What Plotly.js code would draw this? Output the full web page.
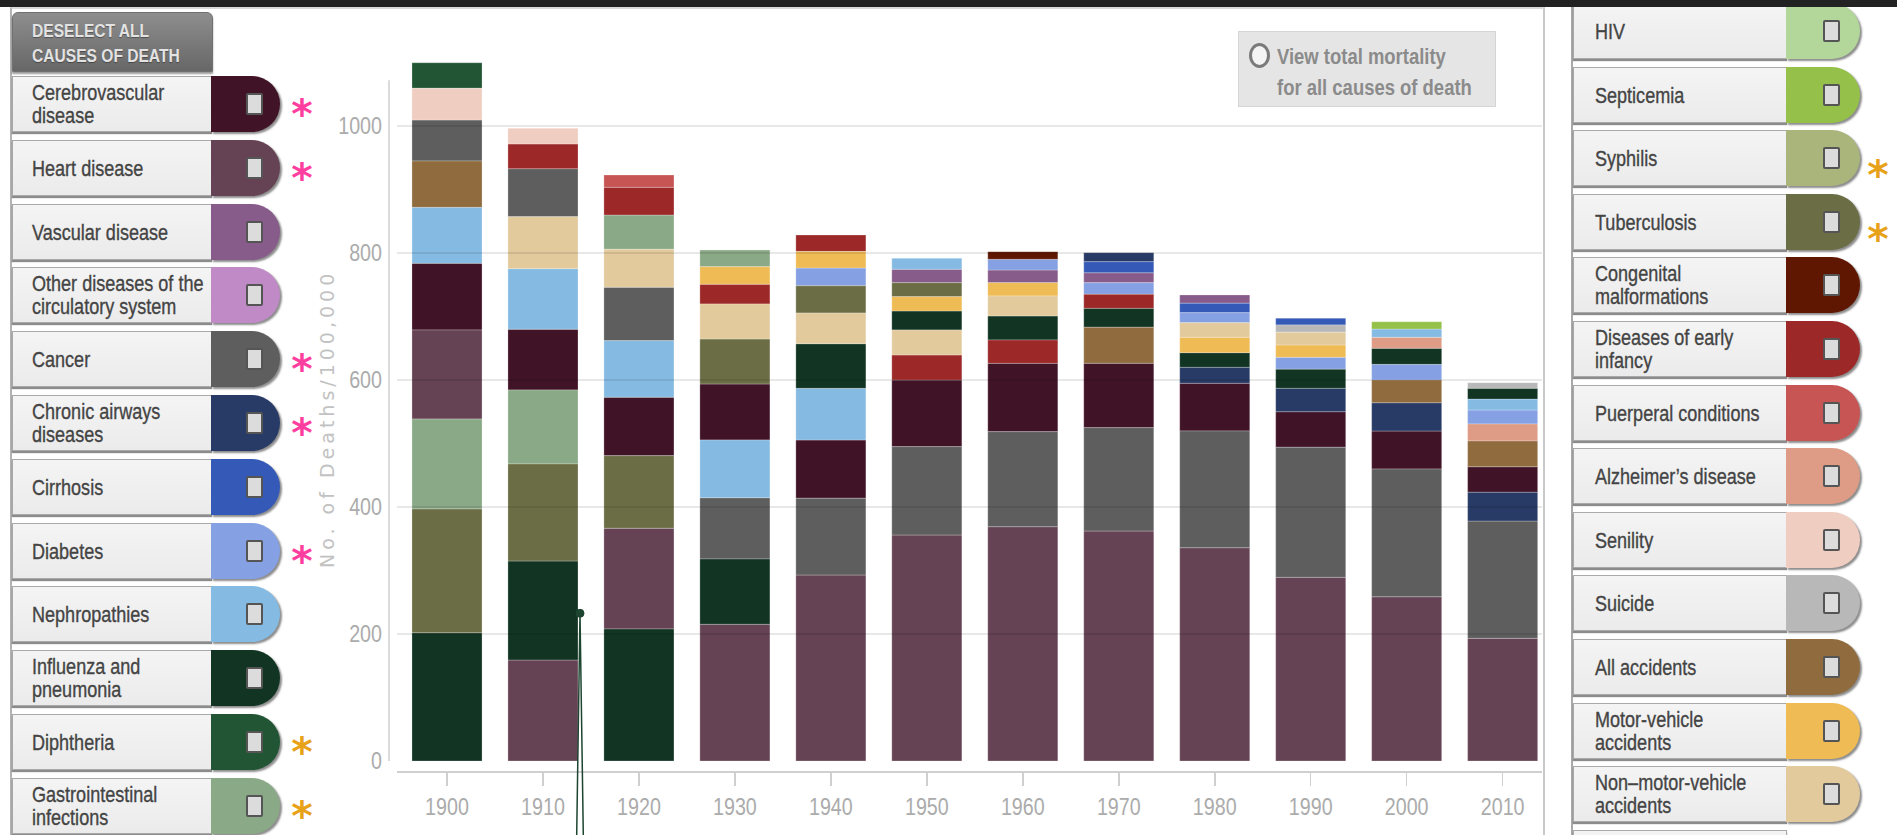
<!DOCTYPE html>
<html><head><meta charset="utf-8">
<script src="https://cdn.plot.ly/plotly-3.0.1.min.js"></script>
<style>
html,body{margin:0;padding:0;width:1897px;height:835px;overflow:hidden;background:#fff;}
body{font-family:"Liberation Sans",Arial,sans-serif;}
#chart{position:absolute;left:0;top:0;width:1897px;height:835px;}
#topband{position:absolute;left:0;top:0;width:1897px;height:7px;background:#222;z-index:5;}
#frame{position:absolute;left:10px;top:7px;width:1531px;height:900px;border-top:2px solid #d9d9d9;border-left:2px solid #b3b3b3;border-right:2px solid #c9c9c9;pointer-events:none;}
#rline{position:absolute;left:1571px;top:7px;width:2px;height:828px;background:#a9a9a9;}
.lab{position:absolute;height:56px;box-sizing:border-box;background:linear-gradient(#f4f4f4,#ebebeb);border:1px solid #a9a9a9;box-shadow:0 2px 1px rgba(0,0,0,.45);display:flex;align-items:center;color:#444;font-size:22px;line-height:23px;overflow:visible;-webkit-text-stroke:0.35px #444;}
.lab span,.narrow{display:inline-block;white-space:pre;transform:scaleX(0.82);transform-origin:0 50%;}
.tab{position:absolute;height:56px;border-radius:0 29px 29px 0;box-shadow:2px 2px 2px rgba(0,0,0,.45);}
.chk{position:absolute;width:17px;height:22px;box-sizing:border-box;background:#dcdcdc;border:2px solid #555;border-radius:2px;top:17px;}
.ast{position:absolute;font-family:"DejaVu Sans",sans-serif;font-weight:bold;font-size:41px;line-height:28px;height:28px;width:30px;text-align:center;overflow:visible;}
#desel{position:absolute;left:12px;top:12px;width:201px;height:60px;box-sizing:border-box;background:linear-gradient(#8e8e8e,#676767);border:1px solid #707070;border-radius:6px 6px 0 0;color:#e3e3e3;font-weight:bold;font-size:19px;line-height:25px;padding:5px 0 0 19px;text-shadow:0 1px 1px rgba(0,0,0,.35);box-shadow:0 2px 2px rgba(0,0,0,.4);}
#viewbox{position:absolute;left:1238px;top:31px;width:258px;height:76px;box-sizing:border-box;background:#e5e5e5;border:1px solid #d5d5d5;}
#radio{position:absolute;left:10px;top:11px;width:21px;height:25px;box-sizing:border-box;border:3px solid #7a7a7a;border-radius:50%;background:#f3f3f3;}
#viewtxt{position:absolute;left:38px;top:9px;color:#8b8b8b;font-weight:bold;font-size:22.5px;line-height:31px;}
</style></head>
<body>
<div id="chart"></div>
<div id="frame"></div>
<div id="rline"></div>
<div id="panels"></div>
<div id="desel"><span class="narrow">DESELECT ALL
CAUSES OF DEATH</span></div>
<div id="viewbox"><div id="radio"></div><div id="viewtxt"><span class="narrow">View total mortality
for all causes of death</span></div></div>
<div id="topband"></div>
<script>
// ---------- data ----------
const years = [1900,1910,1920,1930,1940,1950,1960,1970,1980,1990,2000,2010];

const causeIds = ['cere','heart','vasc','othcirc','canc','chron','cirr','diab','neph','flu','diph','gi',
  'hiv','sept','syph','tb','cong','inf','puer','alz','sen','suic','acc','mv','nonmv'];
const causeLabels = ['Cerebrovascular\ndisease','Heart disease','Vascular disease','Other diseases of the\ncirculatory system',
  'Cancer','Chronic airways\ndiseases','Cirrhosis','Diabetes','Nephropathies','Influenza and\npneumonia','Diphtheria',
  'Gastrointestinal\ninfections','HIV','Septicemia','Syphilis','Tuberculosis','Congenital\nmalformations',
  'Diseases of early\ninfancy','Puerperal conditions','Alzheimer’s disease','Senility','Suicide','All accidents',
  'Motor-vehicle\naccidents','Non–motor-vehicle\naccidents'];
const causeColors = ['#401326','#654354','#875b8a','#bf8ac5','#5e5e5e','#283b66','#3559b7','#85a0e3','#85bbe3',
  '#113423','#225534','#8aa986','#b3d69a','#95c04a','#aab57c','#6b6e45','#5f1701','#9c2828','#c75553','#de9b85',
  '#f0cdc1','#b8b8b8','#8f6b3e','#efbb55','#e2ca9d'];

const leftPanel  = ['cere','heart','vasc','othcirc','canc','chron','cirr','diab','neph','flu','diph','gi'];
const rightPanel = ['hiv','sept','syph','tb','cong','inf','puer','alz','sen','suic','acc','mv','nonmv'];
const pinkStars   = ['cere','heart','canc','chron','diab'];
const orangeStars = ['diph','gi','syph','tb'];

// stacking order (bottom -> top) and deaths per 100,000 for each decade
const stack1900 = ['flu','tb','gi','heart','cere','neph','acc','canc','sen','diph'];
const rate1900  = [202.0,194.8,141.7,140.2,105.0,88.2,72.9,64.6,49.9,40.3];
const stack1910 = ['heart','flu','tb','gi','cere','neph','nonmv','canc','inf','sen'];
const rate1910  = [159.1,155.9,152.8,116.5,95.6,95.4,81.9,75.6,38.9,24.7];
const stack1920 = ['flu','heart','tb','cere','neph','canc','nonmv','gi','inf','puer'];
const rate1920  = [207.9,158.6,114.3,92.0,89.1,84.1,59.8,54.0,43.6,19.4];
const stack1930 = ['heart','flu','canc','neph','cere','tb','nonmv','inf','mv','gi'];
const rate1930  = [215.3,102.8,96.5,90.9,88.2,70.9,55.1,31.0,27.7,26.3];
const stack1940 = ['heart','canc','cere','neph','flu','nonmv','tb','diab','mv','inf'];
const rate1940  = [292.9,120.8,91.8,81.4,70.2,48.3,43.0,27.9,26.1,25.9];
const stack1950 = ['heart','canc','cere','inf','nonmv','flu','mv','tb','vasc','neph'];
const rate1950  = [355.9,139.1,105.0,39.4,39.4,29.9,22.5,22.0,21.1,17.3];
const stack1960 = ['heart','canc','cere','inf','flu','nonmv','mv','vasc','diab','cong'];
const rate1960  = [369.0,149.6,107.7,36.7,37.8,31.5,20.9,20.0,16.9,12.0];
const stack1970 = ['heart','canc','cere','acc','flu','inf','diab','vasc','cirr','chron'];
const rate1970  = [362.2,162.7,101.4,56.7,29.9,22.0,18.3,15.7,17.3,14.2];
const stack1980 = ['heart','canc','cere','chron','flu','mv','nonmv','diab','cirr','vasc'];
const rate1980  = [335.9,183.8,75.1,25.2,23.0,24.3,23.0,15.7,14.8,13.1];
const stack1990 = ['heart','canc','cere','chron','flu','diab','mv','nonmv','suic','cirr'];
const rate1990  = [289.3,204.7,56.1,36.9,29.9,18.9,19.4,20.0,11.5,10.6];
const stack2000 = ['heart','canc','cere','chron','acc','diab','flu','alz','neph','sept'];
const rate2000  = [258.7,201.1,59.8,44.6,35.7,24.7,25.2,17.3,13.1,11.5];
const stack2010 = ['heart','canc','chron','cere','acc','alz','diab','neph','flu','suic'];
const rate2010  = [193.2,184.7,45.2,40.3,40.5,26.8,22.0,17.3,16.9,8.8];

const yTickVals = [0,200,400,600,800,1000];
const yTitle = 'No. of Deaths/100,000';

// ---------- build ----------
const stacks = [stack1900,stack1910,stack1920,stack1930,stack1940,stack1950,stack1960,stack1970,stack1980,stack1990,stack2000,stack2010];
const rates  = [rate1900,rate1910,rate1920,rate1930,rate1940,rate1950,rate1960,rate1970,rate1980,rate1990,rate2000,rate2010];

const traces = [];
causeIds.forEach((id, ci) => {
  const x = [], y = [], base = [];
  years.forEach((yr, di) => {
    let cum = 0;
    stacks[di].forEach((c, k) => {
      if (c === id) { x.push(yr); y.push(rates[di][k]); base.push(cum); }
      cum += rates[di][k];
    });
  });
  if (x.length) traces.push({
    type: 'bar', x, y, base, width: 7.3,
    name: causeLabels[ci].replace('\n', ' '),
    marker: {color: causeColors[ci], line: {color: 'rgba(255,255,255,0.25)', width: 1}},
    hoverinfo: 'name+y'
  });
});

const W = 1897, H = 835, ML = 397, MR = 355, MT = 40, MB = 64;
const PW = W - ML - MR, PH = H - MT - MB;
const px = v => (v - ML) / PW;
const py = v => (H - MB - v) / PH;

const FONT = '"Liberation Sans",Arial,sans-serif';
const shapes = [];
yTickVals.filter(v => v > 0).forEach(v => shapes.push({
  type: 'line', xref: 'paper', yref: 'y', x0: 0, x1: 1, y0: v, y1: v,
  line: {color: 'rgba(0,0,0,0.09)', width: 2}, layer: 'above'
}));
shapes.push({type: 'line', xref: 'paper', yref: 'y', x0: px(389), x1: px(389), y0: 0, y1: 1072,
  line: {color: '#cfcfcf', width: 1.5}, layer: 'above'});
// pointer decoration
shapes.push({type: 'path', xref: 'paper', yref: 'paper',
  path: `M ${px(576.7)},${py(835)} L ${px(580)},${py(613.3)} L ${px(583.3)},${py(835)}`,
  line: {color: '#1d4530', width: 1.5}, layer: 'above'});
shapes.push({type: 'circle', xref: 'paper', yref: 'paper',
  x0: px(576), x1: px(584), y0: py(617.3), y1: py(609.3),
  fillcolor: '#1d4530', line: {color: '#1d4530', width: 1}, layer: 'above'});

const layout = {
  width: W, height: H,
  margin: {l: ML, r: MR, t: MT, b: MB, pad: 0},
  paper_bgcolor: 'rgba(0,0,0,0)', plot_bgcolor: 'rgba(0,0,0,0)',
  barmode: 'overlay', showlegend: false,
  xaxis: {range: [1894.79, 2014.1], tickvals: years, ticktext: years.map(String),
    showgrid: false, zeroline: false, showline: true, linecolor: '#cfcfcf', linewidth: 2,
    ticks: 'outside', ticklen: 13, tickwidth: 1.5, tickcolor: '#cfcfcf',
    tickfont: {family: FONT, size: 24, color: '#ababab'}, fixedrange: true},
  yaxis: {range: [-15.75, 1135.4], tickvals: yTickVals, ticktext: yTickVals.map(String),
    showgrid: false, zeroline: false, showline: false, ticks: '',
    ticklabelstandoff: 14,
    tickfont: {family: FONT, size: 24, color: '#ababab'}, fixedrange: true},
  shapes,
  annotations: [{text: yTitle, xref: 'paper', yref: 'paper', x: px(327), y: py(419),
    xanchor: 'center', yanchor: 'middle', textangle: -90, showarrow: false,
    font: {family: '"DejaVu Sans",sans-serif', size: 19, color: '#c2c2c2'}}]
};

Plotly.newPlot('chart', traces, layout, {displayModeBar: false, staticPlot: true}).then(gd => {
  // condensed look for tick labels (Arial Narrow style)
  gd.querySelectorAll('.xtick text, .ytick text').forEach(t => {
    const x = +(t.getAttribute('x') || 0), y = +(t.getAttribute('y') || 0);
    const tr = t.getAttribute('transform') || '';
    t.setAttribute('transform', `${tr} translate(${x},${y}) scale(0.82,1) translate(${-x},${-y})`);
  });
  gd.querySelectorAll('.annotation-text').forEach(t => { t.style.letterSpacing = '4px'; });
});

// ---------- side panels ----------
const panels = document.getElementById('panels');
function addRow(id, left, top, labW, tabW, chkOff, padL, starX, starDy) {
  const ci = causeIds.indexOf(id);
  const lab = document.createElement('div');
  lab.className = 'lab';
  Object.assign(lab.style, {left: left + 'px', top: top + 'px', width: labW + 'px', paddingLeft: padL + 'px'});
  const sp = document.createElement('span');
  sp.textContent = causeLabels[ci];
  lab.appendChild(sp);
  const tab = document.createElement('div');
  tab.className = 'tab';
  Object.assign(tab.style, {left: (left + labW - 1) + 'px', top: top + 'px', width: tabW + 'px', background: causeColors[ci]});
  const chk = document.createElement('div');
  chk.className = 'chk';
  chk.style.left = chkOff + 'px';
  tab.appendChild(chk);
  panels.appendChild(lab); panels.appendChild(tab);
  const starCol = pinkStars.includes(id) ? '#ff3fa0' : (orangeStars.includes(id) ? '#e8a21a' : null);
  if (starCol) {
    const s = document.createElement('div');
    s.className = 'ast';
    s.textContent = '*';
    Object.assign(s.style, {left: starX + 'px', top: (top + starDy) + 'px', color: starCol});
    panels.appendChild(s);
  }
}
leftPanel.forEach((id, i) => addRow(id, 12, Math.round(76 + 63.8 * i), 200, 69, 35, 19, 287, 24));
rightPanel.forEach((id, i) => addRow(id, 1573, Math.round(3 + 63.6 * i), 214, 74, 37, 21, 1863, 31));
// partially visible next row on the right
const extra = document.createElement('div');
extra.className = 'lab';
Object.assign(extra.style, {left: '1573px', top: '830px', width: '214px'});
panels.appendChild(extra);
</script>
</body></html>
